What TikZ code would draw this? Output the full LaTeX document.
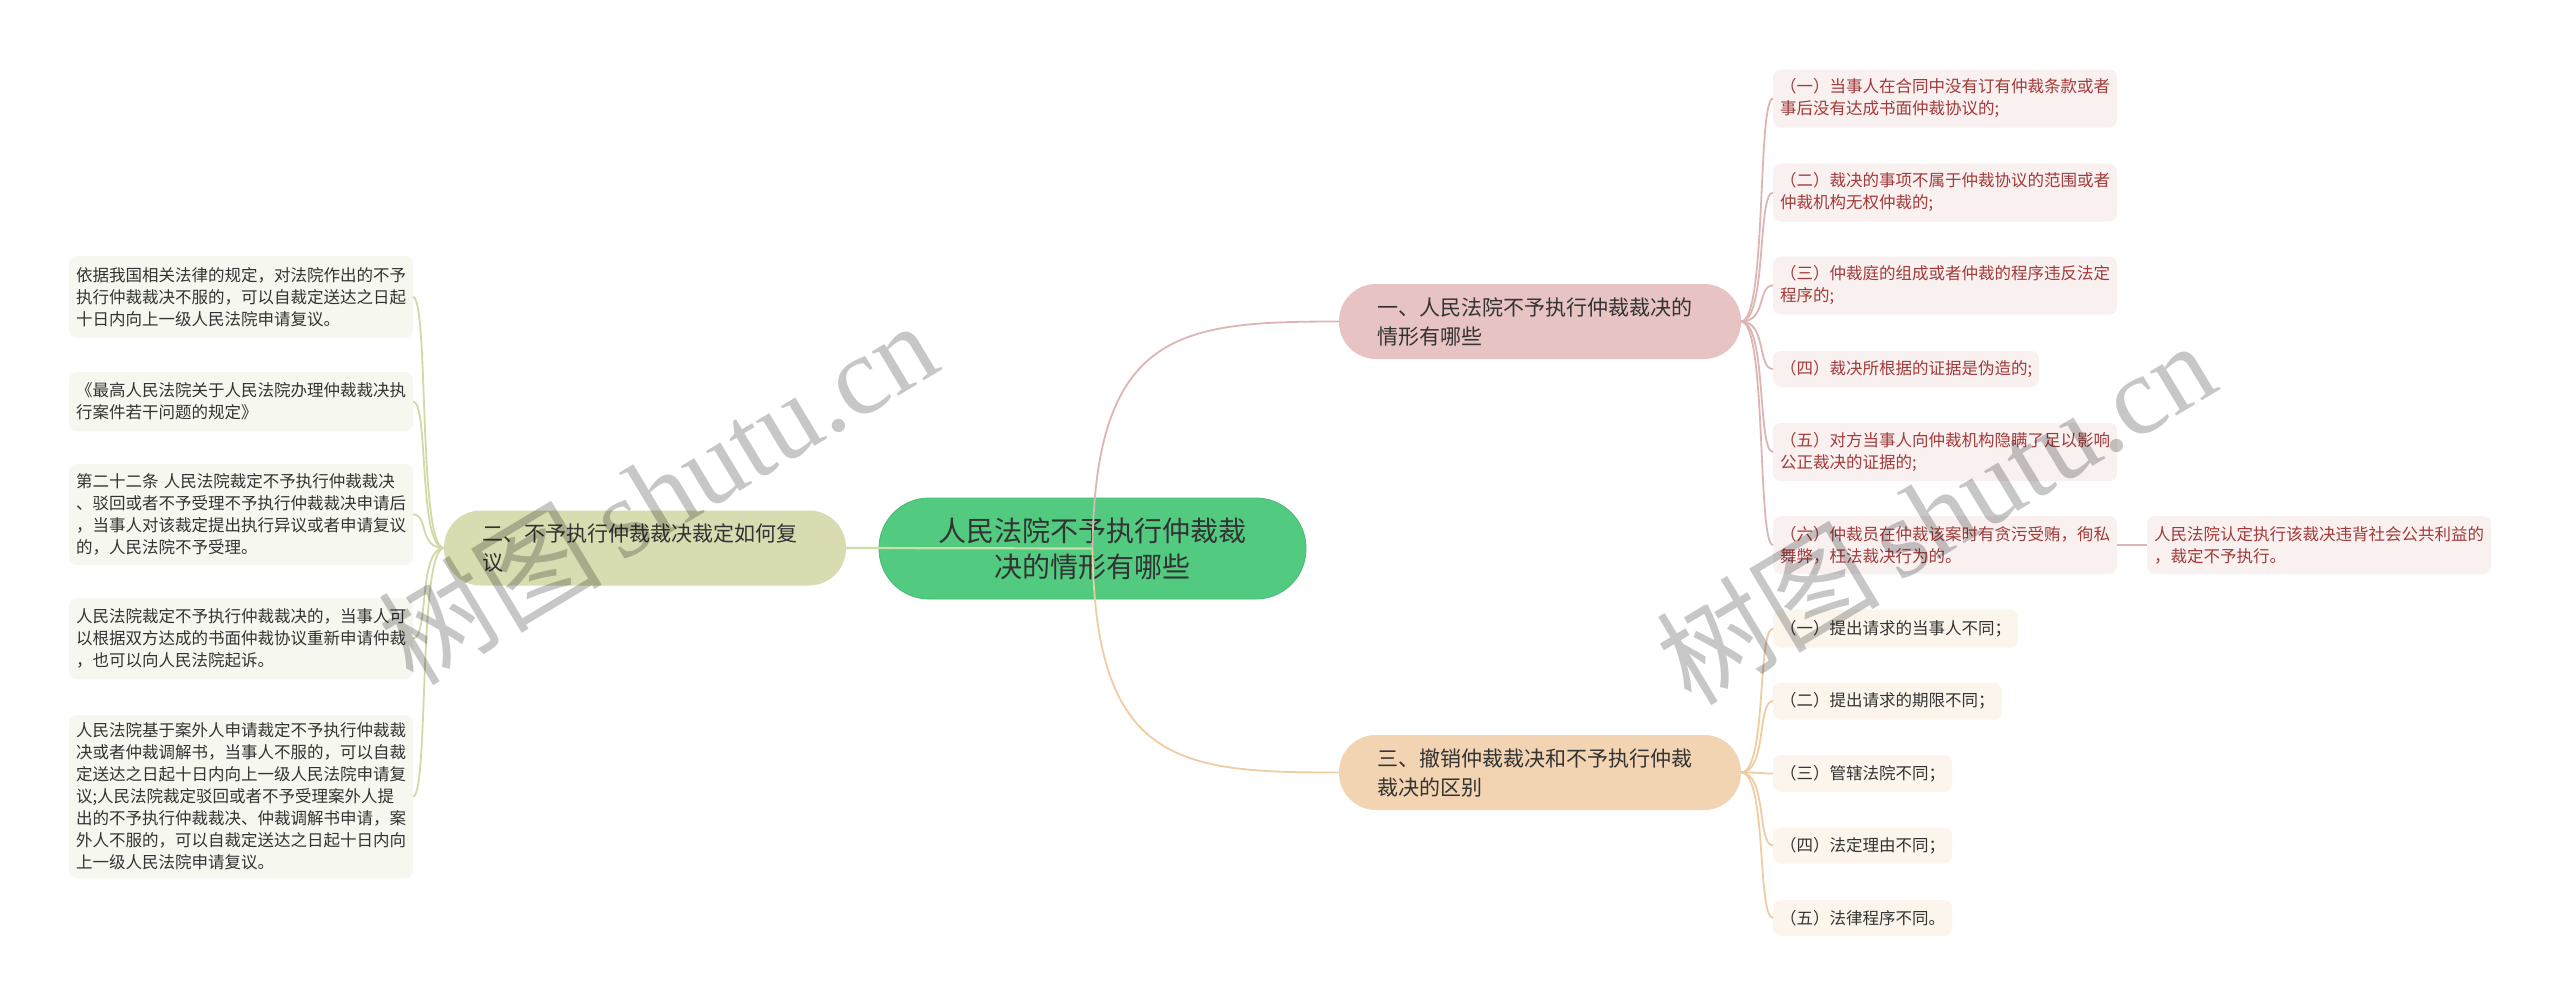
\documentclass[tikz,border=0pt]{standalone}
\usepackage{fontspec}
\setmainfont{Noto Sans CJK SC}
\newfontfamily\wmlatin{Liberation Serif}
\definecolor{cfill}{HTML}{52CA80}
\definecolor{cdraw}{HTML}{47BA74}
\definecolor{btwofill}{HTML}{D9DBB0}
\definecolor{bonefill}{HTML}{E7C3C3}
\definecolor{bthreefill}{HTML}{F2D4B3}
\definecolor{lfill}{HTML}{F6F7EE}
\definecolor{pfill}{HTML}{F9F0F0}
\definecolor{qfill}{HTML}{FCF5EC}
\definecolor{txt}{HTML}{333333}
\definecolor{txtp}{HTML}{A33A3A}
\definecolor{colL}{HTML}{D3D9A6}
\definecolor{colP}{HTML}{DDB5B5}
\definecolor{colQ}{HTML}{EFCDA2}
\definecolor{colC}{HTML}{C9DFA9}
\begin{document}
\begin{tikzpicture}[x=1pt,y=-1pt,
  every node/.style={inner sep=0pt, outer sep=0pt},
  leaf/.style={rounded corners=8pt, inner xsep=7pt, align=left, anchor=west,
    font=\fontsize{16.5}{22}\selectfont},
  leafl/.style={leaf, fill=lfill, text=txt},
  leafp/.style={leaf, fill=pfill, text=txtp},
  leafq/.style={leaf, fill=qfill, text=txt},
  branch/.style={rounded corners=37pt, minimum height=75pt, text width=326pt,
    inner xsep=38pt, align=left, font=\fontsize{21}{29}\selectfont, text=txt},
  central/.style={rounded corners=50pt, minimum width=427pt, minimum height=101pt,
    align=center, fill=cfill, draw=cdraw, line width=0.8pt, text=txt,
    font=\fontsize{28}{36}\selectfont},
  conL/.style={draw=colL, line width=1.8pt},
  conP/.style={draw=colP, line width=1.8pt},
  conQ/.style={draw=colQ, line width=1.8pt},
  conC/.style={draw=colC, line width=2.2pt},
  wmark/.style={text=black, opacity=0.22, rotate=31},
]
\useasboundingbox (0,0) rectangle (2560,1007);
\fill[white] (0,0) rectangle (2560,1007);

% central
\node[central] (C) at (1092.5,548.5) {人民法院不予执行仲裁裁\\决的情形有哪些};

% branches
\node[branch, fill=btwofill] (B2) at (645,548) {二、不予执行仲裁裁决裁定如何复\\议};
\node[branch, fill=bonefill] (B1) at (1540,321.5) {一、人民法院不予执行仲裁裁决的\\情形有哪些};
\node[branch, fill=bthreefill] (B3) at (1540,772.5) {三、撤销仲裁裁决和不予执行仲裁\\裁决的区别};

% left leaves
\node[leafl, text width=330pt, minimum height=82pt] (L1) at (69,297) {依据我国相关法律的规定，对法院作出的不予\\执行仲裁裁决不服的，可以自裁定送达之日起\\十日内向上一级人民法院申请复议。};
\node[leafl, text width=330pt, minimum height=59pt] (L2) at (69,401.5) {《最高人民法院关于人民法院办理仲裁裁决执\\行案件若干问题的规定》};
\node[leafl, text width=330pt, minimum height=101pt] (L3) at (69,514.5) {第二十二条 人民法院裁定不予执行仲裁裁决\\、驳回或者不予受理不予执行仲裁裁决申请后\\，当事人对该裁定提出执行异议或者申请复议\\的，人民法院不予受理。};
\node[leafl, text width=330pt, minimum height=81pt] (L4) at (69,638.5) {人民法院裁定不予执行仲裁裁决的，当事人可\\以根据双方达成的书面仲裁协议重新申请仲裁\\，也可以向人民法院起诉。};
\node[leafl, text width=330pt, minimum height=163pt] (L5) at (69,796.5) {人民法院基于案外人申请裁定不予执行仲裁裁\\决或者仲裁调解书，当事人不服的，可以自裁\\定送达之日起十日内向上一级人民法院申请复\\议;人民法院裁定驳回或者不予受理案外人提\\出的不予执行仲裁裁决、仲裁调解书申请，案\\外人不服的，可以自裁定送达之日起十日内向\\上一级人民法院申请复议。};

% pink leaves
\node[leafp, minimum height=58pt] (P1) at (1773,98.5) {（一）当事人在合同中没有订有仲裁条款或者\\事后没有达成书面仲裁协议的;};
\node[leafp, minimum height=58pt] (P2) at (1773,192.5) {（二）裁决的事项不属于仲裁协议的范围或者\\仲裁机构无权仲裁的;};
\node[leafp, minimum height=58pt] (P3) at (1773,285.5) {（三）仲裁庭的组成或者仲裁的程序违反法定\\程序的;};
\node[leafp, minimum height=36pt] (P4) at (1773,369) {（四）裁决所根据的证据是伪造的;};
\node[leafp, minimum height=58pt] (P5) at (1773,452) {（五）对方当事人向仲裁机构隐瞒了足以影响\\公正裁决的证据的;};
\node[leafp, minimum height=58pt] (P6) at (1773,545) {（六）仲裁员在仲裁该案时有贪污受贿，徇私\\舞弊，枉法裁决行为的。};
\node[leafp, minimum height=58pt] (P7) at (2147,545) {人民法院认定执行该裁决违背社会公共利益的\\，裁定不予执行。};

% peach leaves
\node[leafq, minimum height=38pt] (Q1) at (1773,628.5) {（一）提出请求的当事人不同；};
\node[leafq, minimum height=37pt] (Q2) at (1773,701) {（二）提出请求的期限不同；};
\node[leafq, minimum height=37pt] (Q3) at (1773,773.5) {（三）管辖法院不同；};
\node[leafq, minimum height=36pt] (Q4) at (1773,845.5) {（四）法定理由不同；};
\node[leafq, minimum height=36pt] (Q5) at (1773,918) {（五）法律程序不同。};

% main connectors
\draw[conC] (C.center) -- (B2.east);
\draw[conP] (C.center) .. controls (1095,330) and (1180,321.5) .. (B1.west);
\draw[conQ] (C.center) .. controls (1095,765) and (1180,772.5) .. (B3.west);

% leaf connectors
\foreach \n in {L1,L2,L3,L4,L5}
  \draw[conL] (B2.west) .. controls +(-26,0) and +(16,0) .. (\n.east);
\foreach \n in {P1,P2,P3,P4,P5,P6}
  \draw[conP] (B1.east) .. controls +(26,0) and +(-16,0) .. (\n.west);
\foreach \n in {Q1,Q2,Q3,Q4,Q5}
  \draw[conQ] (B3.east) .. controls +(26,0) and +(-16,0) .. (\n.west);
\draw[conP] (P6.east) -- (P7.west);

% watermarks
\node[wmark, font=\fontsize{112}{112}\selectfont] (W1) at (657,492) {树图\,{\wmlatin shutu.cn}};
\node[wmark, font=\fontsize{112}{112}\selectfont] (W2) at (1935,512) {树图\,{\wmlatin shutu.cn}};
\end{tikzpicture}
\end{document}
